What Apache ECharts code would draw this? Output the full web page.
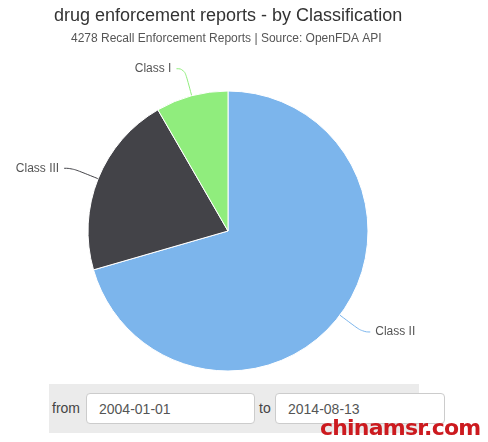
<!DOCTYPE html>
<html><head><meta charset="utf-8">
<script src="https://cdn.jsdelivr.net/npm/echarts@6/dist/echarts.min.js"></script>
<style>
html,body{margin:0;padding:0;background:#fff;font-family:"Liberation Sans",Arial,sans-serif;overflow:hidden;}
#chart{position:absolute;left:0;top:0;width:488px;height:442px;}
#bar{position:absolute;left:49px;top:384px;width:370px;height:49px;background:#ebebeb;}
.lbl{position:absolute;top:400px;font-size:14px;color:#444;}
.inp{position:absolute;top:393px;height:31px;border:1px solid #ccc;border-radius:4px;background:#fff;font-size:14px;color:#555;line-height:31px;padding-left:12px;box-sizing:border-box;}
#wm{position:absolute;left:320px;top:417px;font-size:22px;line-height:22px;font-weight:bold;color:#cc1a1f;font-family:"DejaVu Sans",sans-serif;white-space:nowrap;letter-spacing:-0.8px;}
</style></head>
<body>
<div id="bar"></div>
<div class="lbl" style="left:52px">from</div>
<div class="inp" style="left:86px;width:169px;">2004-01-01</div>
<div class="lbl" style="left:259px">to</div>
<div class="inp" style="left:275px;width:170px;">2014-08-13</div>
<div id="chart"></div>
<div id="wm">chinamsr.com</div>
<script>
var categories = ["Class II", "Class III", "Class I"];
var values = [3017, 904, 357];
var colors = ["#7cb5ec", "#434348", "#90ed7d"];
var titleText = "drug enforcement reports - by Classification";
var subtitleText = "4278 Recall Enforcement Reports | Source: OpenFDA API";

var chart = echarts.init(document.getElementById('chart'), null, {renderer:'canvas'});
chart.setOption({
  animation:false,
  title:[{
    text:titleText, left:54, top:7, padding:0,
    textStyle:{fontFamily:'Liberation Sans', fontSize:18, fontWeight:'normal', color:'#333'}
  },{
    text:subtitleText, left:71, top:33, padding:0,
    textStyle:{fontFamily:'Liberation Sans', fontSize:12, fontWeight:'normal', color:'#555'}
  }],
  series:[{
    type:'pie',
    center:[228,231],
    radius:[0,140],
    startAngle:90,
    clockwise:true,
    data:categories.map(function(c,i){return {name:c,value:values[i],itemStyle:{color:colors[i]},labelLine:{lineStyle:{color:colors[i]}}};}),
    itemStyle:{borderColor:'#fff',borderWidth:1},
    label:{fontFamily:'Liberation Sans',fontSize:12,color:'#555',distanceToLabelLine:5},
    labelLine:{length:28,length2:8,smooth:0.5},
    emphasis:{disabled:true}
  }]
});
</script>
</body></html>
